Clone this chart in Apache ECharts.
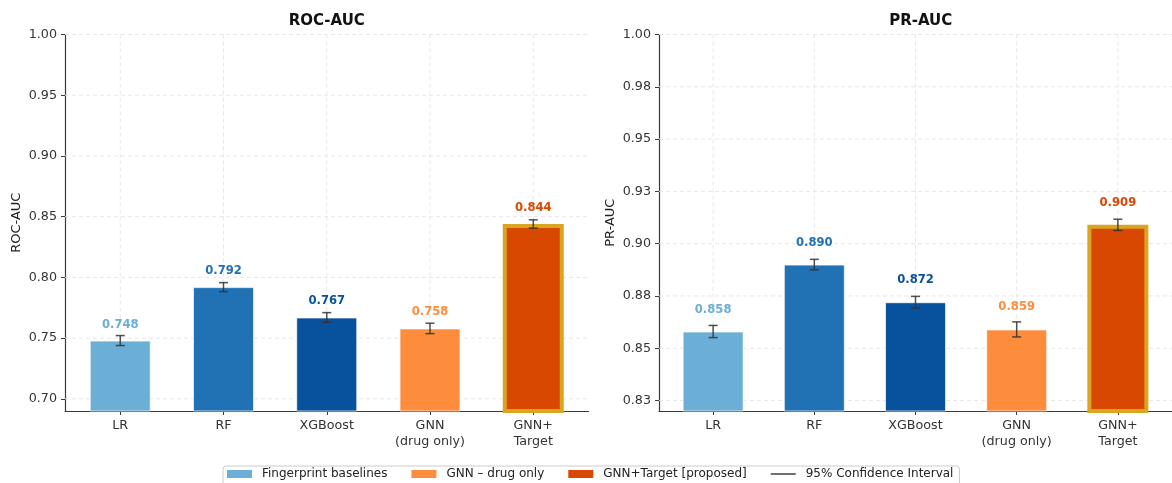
<!DOCTYPE html>
<html>
<head>
<meta charset="utf-8">
<script src="https://cdn.jsdelivr.net/npm/echarts@6/dist/echarts.min.js"></script>
<style>
html,body{margin:0;padding:0;background:#fff}
#chart{width:1172px;height:483px}
</style>
</head>
<body>
<div id="chart"></div>
<script>
// data
const categories = ['LR', 'RF', 'XGBoost', 'GNN\n(drug only)', 'GNN+\nTarget'];
const rocValues = [0.748, 0.792, 0.767, 0.758, 0.844];
const rocCi = [0.0041, 0.0037, 0.0040, 0.0043, 0.0034];
const prValues = [0.858, 0.890, 0.872, 0.859, 0.909];
const prCi = [0.0029, 0.0025, 0.0028, 0.0036, 0.0027];
const rocTicks = [0.70, 0.75, 0.80, 0.85, 0.90, 0.95, 1.00];
const rocTickLabels = ['0.70', '0.75', '0.80', '0.85', '0.90', '0.95', '1.00'];
const prTicks = [0.825, 0.85, 0.875, 0.90, 0.925, 0.95, 0.975, 1.00];
const prTickLabels = ['0.83', '0.85', '0.88', '0.90', '0.93', '0.95', '0.98', '1.00'];
const barColors = ['#6baed6', '#2171b5', '#08519c', '#fd8d3c', '#d94801'];
const groups = [
    { name: 'Fingerprint baselines', idx: [0, 1, 2] },
    { name: 'GNN – drug only', idx: [3] },
    { name: 'GNN+Target [proposed]', idx: [4] }
];
const ciName = '95% Confidence Interval';

const font = 'DejaVu Sans';
const chart = echarts.init(document.getElementById('chart'));

const grids = [];
const xAxes = [];
const yAxes = [];
const series = [];
const graphics = [];

function panel(gi, left, title, yName, values, ci, ticks, tickLabels, yMin, labelGap) {
    const width = 523.5;
    const xTicks = categories.map((c, i) => i);
    grids.push({ left: left, top: 34.5, width: width, height: 376.5 });
    graphics.push({
        type: 'text', x: left + width / 2, y: 21,
        style: { text: title, align: 'center', verticalAlign: 'middle', fontFamily: font, fontWeight: 'bold', fontSize: 15, fill: '#111' }
    });
    xAxes.push({
        gridIndex: gi, type: 'value', min: -0.535, max: 4.535,
        axisLine: { show: true, onZero: false, lineStyle: { color: '#3a3a3a', width: 1.2 } },
        axisTick: { show: true, customValues: xTicks, length: 4, lineStyle: { color: '#3a3a3a' } },
        axisLabel: {
            customValues: xTicks, margin: 7, color: '#333', fontFamily: font, fontSize: 12.7, lineHeight: 16,
            formatter: v => categories[Math.round(v)]
        },
        splitLine: { show: false }
    });
    yAxes.push({
        gridIndex: gi, type: 'value', min: yMin, max: 1,
        name: yName, nameLocation: 'middle', nameGap: 42,
        nameTextStyle: { fontFamily: font, fontSize: 13, color: '#222' },
        axisLine: { show: true, onZero: false, lineStyle: { color: '#3a3a3a', width: 1.2 } },
        axisTick: { show: true, customValues: ticks, length: 4, lineStyle: { color: '#3a3a3a' } },
        axisLabel: {
            customValues: ticks, margin: 8, color: '#333', fontFamily: font, fontSize: 12.7,
            formatter: v => {
                const k = ticks.findIndex(t => Math.abs(t - v) < 1e-6);
                return k >= 0 ? tickLabels[k] : '';
            }
        },
        splitLine: { show: false }
    });

    // dashed grid behind the bars: [x, y, 0 = horizontal / 1 = vertical]
    const gridData = ticks.map(t => [0, t, 0]).concat(xTicks.map(i => [i, 1, 1]));
    series.push({
        name: '_grid' + gi, type: 'custom', xAxisIndex: gi, yAxisIndex: gi, z: 1, silent: true,
        encode: { x: 0, y: 1 },
        data: gridData,
        renderItem: (params, api) => {
            const cs = params.coordSys;
            const p = api.coord([api.value(0), api.value(1)]);
            const style = { stroke: '#e4e4e4', lineWidth: 0.9, lineDash: [4, 3] };
            const shape = api.value(2) === 0
                ? { x1: cs.x, y1: p[1], x2: cs.x + cs.width, y2: p[1] }
                : { x1: p[0], y1: cs.y, x2: p[0], y2: cs.y + cs.height };
            return { type: 'line', shape: shape, style: style };
        }
    });

    groups.forEach(g => {
        series.push({
            name: g.name, type: 'bar', xAxisIndex: gi, yAxisIndex: gi,
            barWidth: 61, barGap: '-100%', z: 2,
            itemStyle: { color: barColors[g.idx[0]] },
            label: {
                show: true, position: 'top', distance: labelGap,
                fontFamily: font, fontWeight: 'bold', fontSize: 11.6,
                formatter: p => p.value[1].toFixed(3)
            },
            data: g.idx.map(i => ({
                value: [i, values[i]],
                itemStyle: i === 4
                    ? { color: barColors[i], borderColor: '#daa520', borderWidth: 4 }
                    : { color: barColors[i], borderColor: 'rgba(255,255,255,0.7)', borderWidth: 1 },
                label: { color: barColors[i] }
            }))
        });
    });

    series.push({
        name: ciName, type: 'custom', xAxisIndex: gi, yAxisIndex: gi, z: 5,
        itemStyle: { color: '#333' },
        encode: { x: 0, y: 1 },
        data: values.map((v, i) => [i, v, ci[i]]),
        renderItem: (params, api) => {
            const x = api.value(0), y = api.value(1), e = api.value(2);
            const top = api.coord([x, y + e]);
            const bot = api.coord([x, y - e]);
            const style = { stroke: '#333', lineWidth: 1.5, opacity: 0.85 };
            const cap = 4.5;
            return {
                type: 'group',
                children: [
                    { type: 'line', shape: { x1: top[0], y1: top[1], x2: bot[0], y2: bot[1] }, style: style },
                    { type: 'line', shape: { x1: top[0] - cap, y1: top[1], x2: top[0] + cap, y2: top[1] }, style: style },
                    { type: 'line', shape: { x1: bot[0] - cap, y1: bot[1], x2: bot[0] + cap, y2: bot[1] }, style: style }
                ]
            };
        }
    });
}

panel(0, 65, 'ROC-AUC', 'ROC-AUC', rocValues, rocCi, rocTicks, rocTickLabels, 0.69, 10);
panel(1, 659, 'PR-AUC', 'PR-AUC', prValues, prCi, prTicks, prTickLabels, 0.82, 16);

chart.setOption({
    animation: false,
    textStyle: { fontFamily: font },
    grid: grids,
    xAxis: xAxes,
    yAxis: yAxes,
    graphic: graphics,
    legend: {
        left: 223, top: 466,
        itemWidth: 25, itemHeight: 8, itemGap: 24,
        padding: [2, 6, 8, 4],
        borderColor: '#cccccc', borderWidth: 1, borderRadius: 3,
        selectedMode: false,
        textStyle: { fontFamily: font, fontSize: 12, color: '#222', padding: [0, 0, 0, 5] },
        data: [
            { name: groups[0].name, icon: 'rect' },
            { name: groups[1].name, icon: 'rect' },
            { name: groups[2].name, icon: 'rect' },
            { name: ciName, icon: 'path://M0,0 M0,8 M0,3.3 L25,3.3 L25,4.7 L0,4.7 Z' }
        ]
    },
    series: series
});
</script>
</body>
</html>
